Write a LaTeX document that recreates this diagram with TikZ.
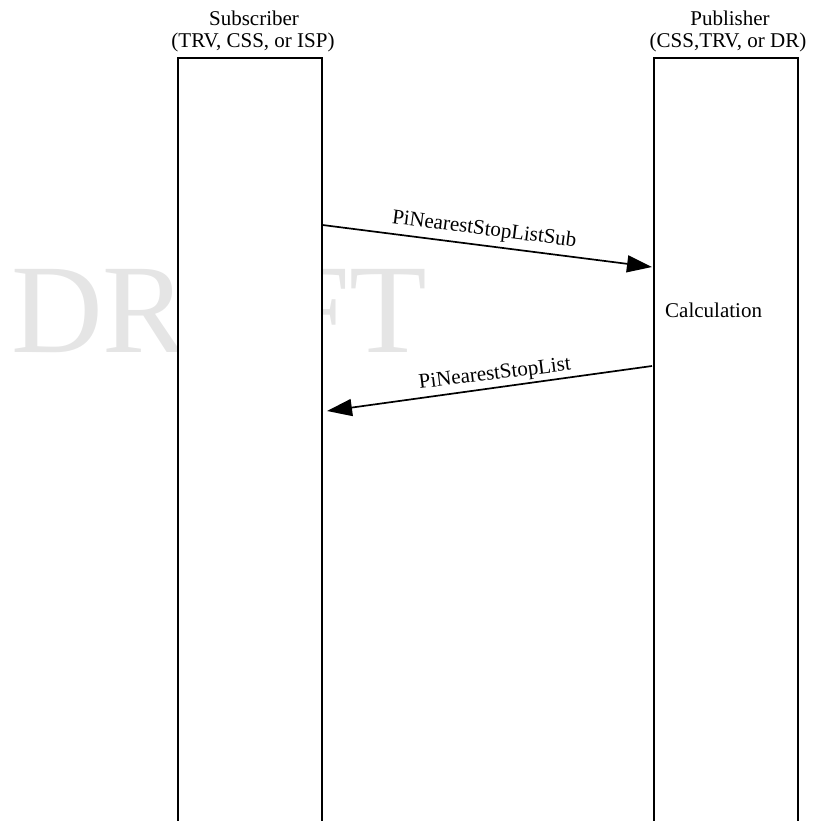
\documentclass[tikz,border=0pt]{standalone}
\usepackage{fontspec}
\setmainfont{Liberation Serif}
\usetikzlibrary{arrows.meta}
\begin{document}
\begin{tikzpicture}[x=1pt,y=-1pt,
  lbl/.style={inner sep=0pt, anchor=base, font=\fontsize{21}{23}\selectfont},
  lifebox/.style={draw=black, line width=1.6pt, fill=white, inner sep=0pt,
    minimum width=144pt, minimum height=780pt, anchor=north west},
  msg/.style={line width=1.7pt, -{Triangle[length=25pt,width=17pt]}}]
\useasboundingbox (0,0) rectangle (816,821);
% watermark
\node[inner sep=0pt, anchor=base west, text=black!10,
  font=\fontsize{127}{127}\selectfont] (wm) at (11,352) {DRAFT};
% lifeline boxes
\node[lifebox] (sub) at (177,57.5) {};
\node[lifebox] (pub) at (653,57.5) {};
% headers
\node[lbl] (subname) at (254,26) {Subscriber};
\node[lbl] (subrole) at (253,48) {(TRV, CSS, or ISP)};
\node[lbl] (pubname) at (730,26) {Publisher};
\node[lbl] (pubrole) at (728,48) {(CSS,TRV, or DR)};
% message end points
\coordinate (s1) at (322.5,225);
\coordinate (p1) at (652,267);
\coordinate (p2) at (652,366);
\coordinate (s2) at (327,411);
\draw[msg] (s1) -- (p1);
\draw[msg] (p2) -- (s2);
\node[lbl, rotate=-7.3] (m1) at (483.5,235) {PiNearestStopListSub};
\node[lbl, rotate=7.0] (m2) at (495.5,379.5) {PiNearestStopList};
\node[lbl, anchor=base west] (calc) at (665,317) {Calculation};
\end{tikzpicture}
\end{document}
